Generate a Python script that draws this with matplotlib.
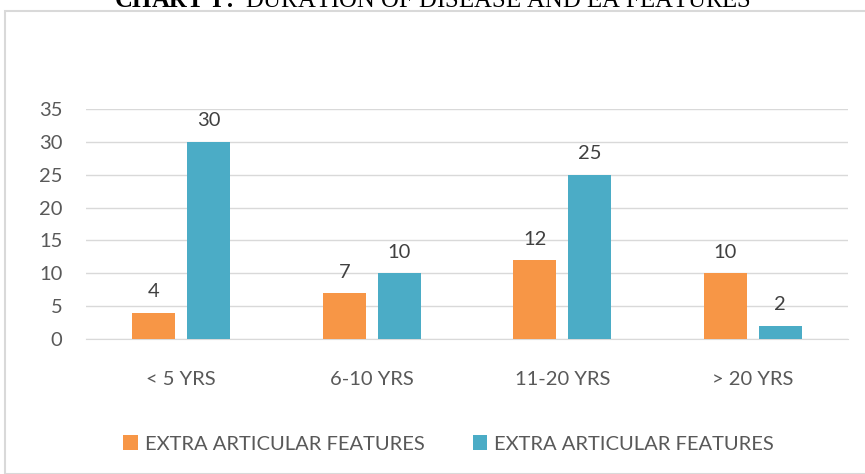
import numpy as np
import matplotlib.pyplot as plt
import matplotlib.patches as patches

categories = ['< 5 YRS', '6-10 YRS', '11-20 YRS', '> 20 YRS']
series_a = [4, 7, 12, 10]
series_b = [30, 10, 25, 2]
series_names = ['EXTRA ARTICULAR FEATURES', 'EXTRA ARTICULAR FEATURES']
yticks = [0, 5, 10, 15, 20, 25, 30, 35]

orange = '#F79646'
teal = '#4BACC6'
txt = '#595959'
font = ['Lato', 'DejaVu Sans']

plt.rcParams['mathtext.fontset'] = 'custom'
plt.rcParams['mathtext.rm'] = 'Liberation Serif'
plt.rcParams['mathtext.bf'] = 'Liberation Serif:bold'

fig = plt.figure(figsize=(8.65, 4.74), dpi=100)

# outer chart border
fig.patches.append(patches.Rectangle((5 / 865, 0), 1.0, 1 - 11 / 474, transform=fig.transFigure,
                                     fill=False, edgecolor='#D9D9D9', lw=1.5))

# title, clipped at top of image like the reference
fig.text(0.5, 1 - 1 / 474, r'$\bf{CHART\ I:}$ DURATION OF DISEASE AND EA FEATURES',
         ha='center', va='center', fontsize=17.8, family='Liberation Serif')

ax = fig.add_axes([86 / 865, 1 - 339 / 474, (848 - 86) / 865, (339 - 109) / 474])
x = np.arange(len(categories))
w = 0.225
off = 0.144
ba = ax.bar(x - off, series_a, w, color=orange, label=series_names[0], zorder=3)
bb = ax.bar(x + off, series_b, w, color=teal, label=series_names[1], zorder=3)
for bars in (ba, bb):
    for r in bars:
        ax.annotate(str(int(r.get_height())), (r.get_x() + r.get_width() / 2, r.get_height()),
                    xytext=(0, 9), textcoords='offset points', ha='center', va='bottom',
                    fontsize=14.5, color='#404040', family=font)

ax.set_xlim(-0.5, 3.5)
ax.set_ylim(0, 35)
ax.set_yticks(yticks)
ax.set_xticks(x)
ax.set_xticklabels(categories)
ax.yaxis.grid(True, color='#D9D9D9', lw=1, zorder=0)
ax.tick_params(length=0, labelsize=14.5, colors=txt, pad=17)
ax.tick_params(axis='x', pad=23)
for lab in ax.get_xticklabels() + ax.get_yticklabels():
    lab.set_family(font)
for s in ax.spines.values():
    s.set_visible(False)
ax.spines['bottom'].set_visible(True)
ax.spines['bottom'].set_color('#D9D9D9')

leg = fig.legend(handles=[ba, bb], loc='center', bbox_to_anchor=(0.5185, 1 - 444 / 474), ncol=2,
                 frameon=False, handlelength=0.7, handleheight=0.7, handletextpad=0.35,
                 columnspacing=2.4, prop={'family': font, 'size': 14.5})
for tx in leg.get_texts():
    tx.set_color(txt)

fig.savefig('out.png', dpi=100)
